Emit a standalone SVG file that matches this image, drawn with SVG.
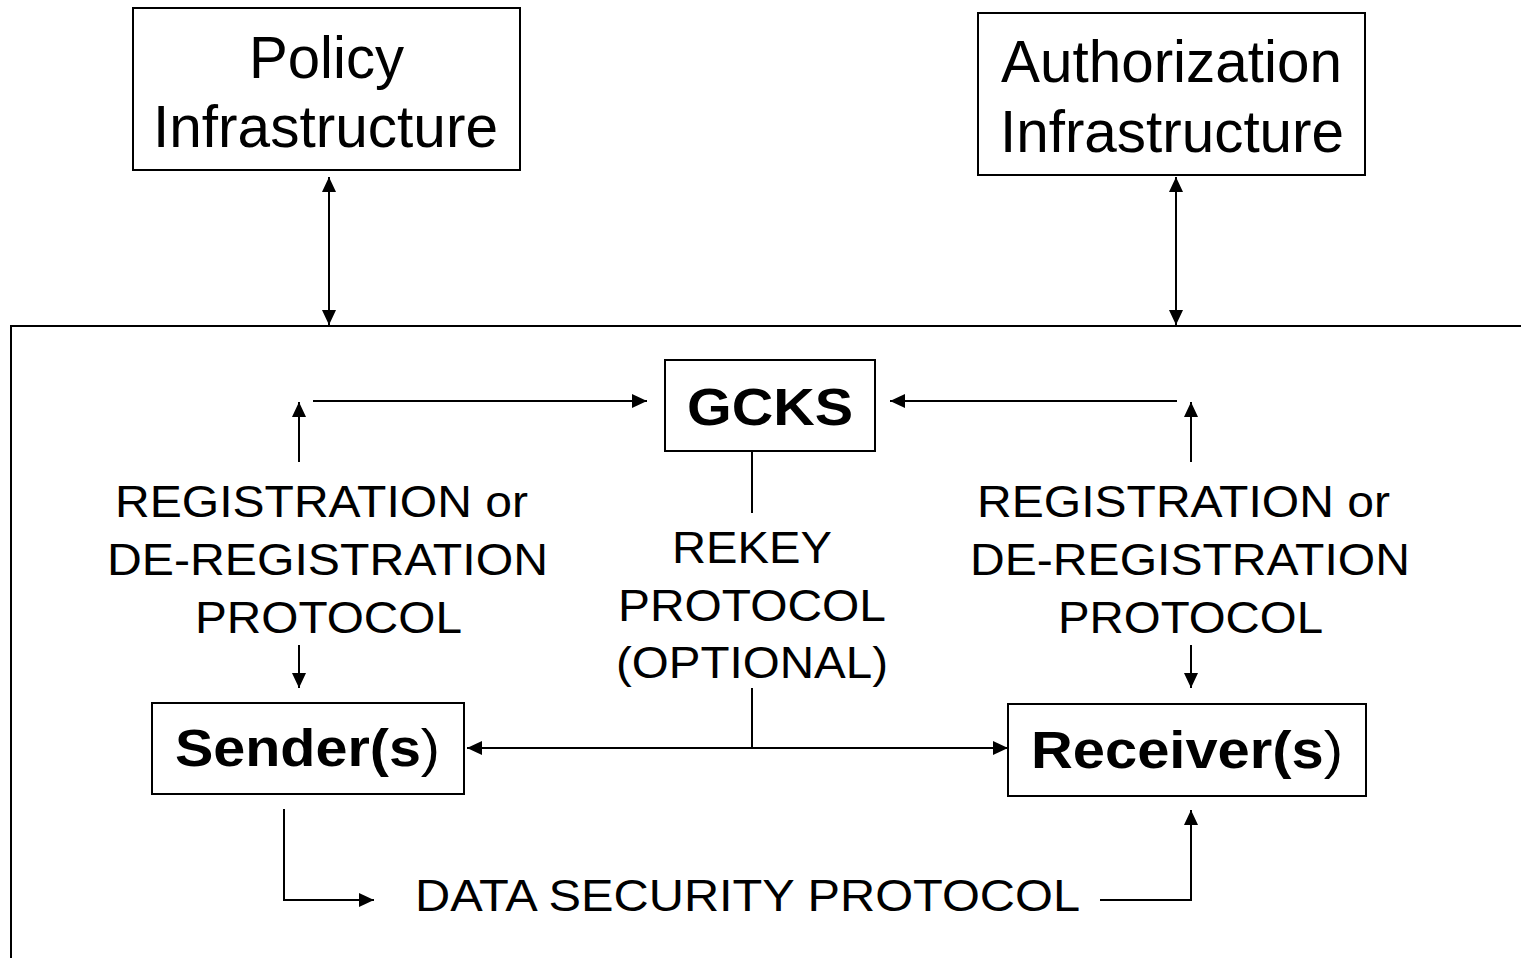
<svg xmlns="http://www.w3.org/2000/svg" width="1521" height="958" viewBox="0 0 1521 958">
<style>
.box{fill:#fff;stroke:#000;stroke-width:2}
.ln{fill:none;stroke:#000;stroke-width:2}
.t{font-family:"Liberation Sans",Arial,sans-serif;fill:#000}
.big{font-size:60px}
.lab{font-size:44px}
.bold{font-size:51px;font-weight:bold}
.n{font-weight:normal}
</style>
<defs>
<marker id="ah" markerUnits="userSpaceOnUse" markerWidth="16" markerHeight="14" refX="15" refY="7" orient="auto-start-reverse">
<path d="M0,0 L15,7 L0,14 Z" fill="#000"/>
</marker>
</defs>
<rect x="0" y="0" width="1521" height="958" fill="#fff"/>
<g id="frame"><rect class="ln" x="11" y="326" width="1530" height="700"/></g>
<g id="policy">
<rect class="box" x="133" y="8" width="387" height="162"/>
<text class="t big" x="326.5" y="78" text-anchor="middle" textLength="155" lengthAdjust="spacingAndGlyphs">Policy</text>
<text class="t big" x="325.5" y="147" text-anchor="middle" textLength="345" lengthAdjust="spacingAndGlyphs">Infrastructure</text>
</g>
<g id="authorization">
<rect class="box" x="978" y="13" width="387" height="162"/>
<text class="t big" x="1171.5" y="82" text-anchor="middle" textLength="341" lengthAdjust="spacingAndGlyphs">Authorization</text>
<text class="t big" x="1172" y="152" text-anchor="middle" textLength="344" lengthAdjust="spacingAndGlyphs">Infrastructure</text>
</g>
<g id="gcks">
<rect class="box" x="665" y="360" width="210" height="91"/>
<text class="t bold" x="770" y="425" text-anchor="middle" textLength="166" lengthAdjust="spacingAndGlyphs">GCKS</text>
</g>
<g id="sender">
<rect class="box" x="152" y="703" width="312" height="91"/>
<text class="t bold" x="175" y="766" textLength="265" lengthAdjust="spacingAndGlyphs">Sender(s<tspan class="n">)</tspan></text>
</g>
<g id="receiver">
<rect class="box" x="1008" y="704" width="358" height="92"/>
<text class="t bold" x="1031" y="768" textLength="312" lengthAdjust="spacingAndGlyphs">Receiver(s<tspan class="n">)</tspan></text>
</g>
<g id="labels">
<text class="t lab" x="321.5" y="517" text-anchor="middle" textLength="413" lengthAdjust="spacingAndGlyphs">REGISTRATION or</text>
<text class="t lab" x="327.5" y="575" text-anchor="middle" textLength="441" lengthAdjust="spacingAndGlyphs">DE-REGISTRATION</text>
<text class="t lab" x="328.5" y="633" text-anchor="middle" textLength="267" lengthAdjust="spacingAndGlyphs">PROTOCOL</text>
<text class="t lab" x="1183.5" y="517" text-anchor="middle" textLength="413" lengthAdjust="spacingAndGlyphs">REGISTRATION or</text>
<text class="t lab" x="1190" y="575" text-anchor="middle" textLength="440" lengthAdjust="spacingAndGlyphs">DE-REGISTRATION</text>
<text class="t lab" x="1190.5" y="633" text-anchor="middle" textLength="265" lengthAdjust="spacingAndGlyphs">PROTOCOL</text>
<text class="t lab" x="752" y="563" text-anchor="middle" textLength="160" lengthAdjust="spacingAndGlyphs">REKEY</text>
<text class="t lab" x="752" y="621" text-anchor="middle" textLength="268" lengthAdjust="spacingAndGlyphs">PROTOCOL</text>
<text class="t lab" x="752" y="678" text-anchor="middle" textLength="272" lengthAdjust="spacingAndGlyphs">(OPTIONAL)</text>
<text class="t lab" x="747.5" y="911" text-anchor="middle" textLength="665" lengthAdjust="spacingAndGlyphs">DATA SECURITY PROTOCOL</text>
</g>
<g id="connectors">
<line class="ln" x1="329" y1="177" x2="329" y2="325" marker-start="url(#ah)" marker-end="url(#ah)"/>
<line class="ln" x1="1176" y1="177" x2="1176" y2="325" marker-start="url(#ah)" marker-end="url(#ah)"/>
<line class="ln" x1="299" y1="462" x2="299" y2="402" marker-end="url(#ah)"/>
<line class="ln" x1="313" y1="401" x2="647" y2="401" marker-end="url(#ah)"/>
<line class="ln" x1="1177" y1="401" x2="890" y2="401" marker-end="url(#ah)"/>
<line class="ln" x1="1191" y1="462" x2="1191" y2="402" marker-end="url(#ah)"/>
<line class="ln" x1="299" y1="645" x2="299" y2="688" marker-end="url(#ah)"/>
<line class="ln" x1="1191" y1="645" x2="1191" y2="688" marker-end="url(#ah)"/>
<line class="ln" x1="752" y1="451" x2="752" y2="513"/>
<line class="ln" x1="752" y1="688" x2="752" y2="748"/>
<line class="ln" x1="467" y1="748" x2="1008" y2="748" marker-start="url(#ah)" marker-end="url(#ah)"/>
<polyline class="ln" points="284,809 284,900 374,900" marker-end="url(#ah)"/>
<polyline class="ln" points="1100,900 1191,900 1191,810" marker-end="url(#ah)"/>
</g>
</svg>
